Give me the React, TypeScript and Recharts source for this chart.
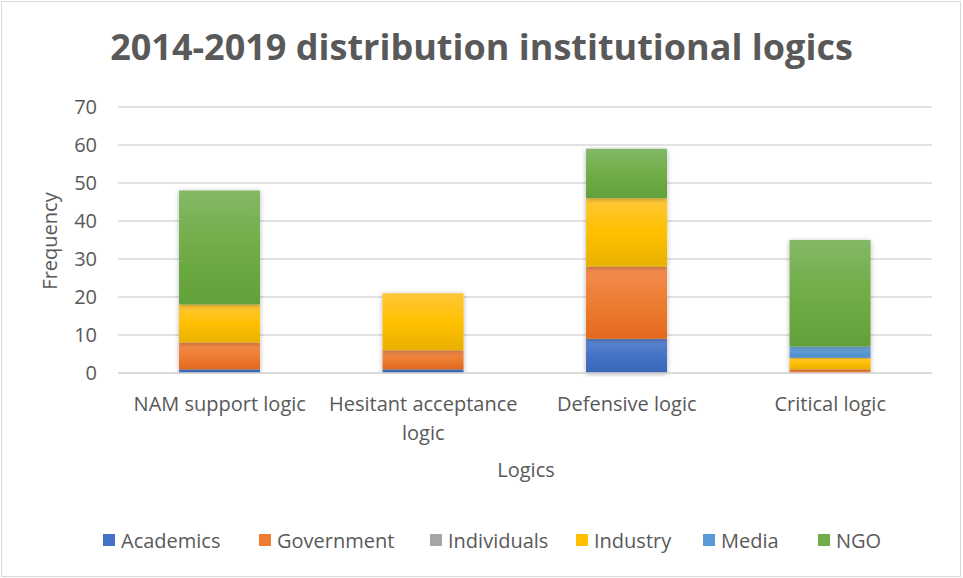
import React from 'react';
import { BarChart, Bar, XAxis, YAxis, CartesianGrid, Label } from 'recharts';

const categories = ['NAM support logic', 'Hesitant acceptance logic', 'Defensive logic', 'Critical logic'];
const academics = [1, 1, 9, 0];
const government = [7, 5, 19, 1];
const individuals = [0, 0, 0, 0];
const industry = [10, 15, 18, 3];
const media = [0, 0, 0, 3];
const ngo = [30, 0, 13, 28];
const yTicks = [0, 10, 20, 30, 40, 50, 60, 70];

const seriesNames = ['Academics', 'Government', 'Individuals', 'Industry', 'Media', 'NGO'];
const seriesValues = [academics, government, individuals, industry, media, ngo];
const seriesColors = ['#4472C4', '#ED7D31', '#A5A5A5', '#FFC000', '#5B9BD5', '#70AD47'];
const gradTop = ['#5f86cf', '#f18d51', '#b3b3b3', '#ffc73a', '#74acdc', '#84b866'];
const gradBottom = ['#3a66b8', '#e2691e', '#969696', '#e8b000', '#4b8ccb', '#62a03a'];

const data = categories.map((c, i) => {
  const row: any = { name: c };
  seriesNames.forEach((s, k) => {
    row[s] = seriesValues[k][i];
  });
  return row;
});

const FONT = '"Open Sans", Lato, sans-serif';
const FS = 20;

const CatTick = (props: any) => {
  const { x, y, payload } = props;
  const label: string = payload.value;
  const lines = label === 'Hesitant acceptance logic' ? ['Hesitant acceptance', 'logic'] : [label];
  return (
    <text x={x} y={y} textAnchor="middle" fill="#595959" fontSize={FS} fontFamily={FONT}>
      {lines.map((l, i) => (
        <tspan key={i} x={x} dy={i === 0 ? 30 : 29}>
          {l}
        </tspan>
      ))}
    </text>
  );
};

const legendLefts = [103, 259, 430, 576, 703, 818];

export default function App() {
  return (
    <div style={{ position: 'absolute', left: 0, top: 0, width: 963, height: 578, background: '#fff' }}>
      <div
        style={{
          position: 'absolute',
          left: 1,
          top: 1,
          width: 960,
          height: 576,
          border: '1px solid #d9d9d9',
          boxSizing: 'border-box',
        }}
      />
      <div
        style={{
          position: 'absolute',
          left: 0,
          top: 23,
          width: 963,
          textAlign: 'center',
          fontFamily: FONT,
          fontWeight: 700,
          fontSize: 36,
          color: '#595959',
          lineHeight: '48px',
        }}
      >
        2014-2019 distribution institutional logics
      </div>
      <BarChart
        width={963}
        height={578}
        data={data}
        margin={{ top: 107, right: 31, bottom: 175, left: 58 }}
        barCategoryGap="30%"
        style={{ position: 'absolute', left: 0, top: 0 }}
      >
        <defs>
          {seriesNames.map((s, k) => (
            <linearGradient key={s} id={`g${k}`} x1="0" y1="0" x2="0" y2="1">
              <stop offset="0%" stopColor={gradTop[k]} />
              <stop offset="50%" stopColor={seriesColors[k]} />
              <stop offset="100%" stopColor={gradBottom[k]} />
            </linearGradient>
          ))}
          <filter id="shadow" x="-20%" y="-5%" width="140%" height="115%">
            <feDropShadow dx="0" dy="1" stdDeviation="2.5" floodColor="#000" floodOpacity="0.3" />
          </filter>
        </defs>
        <CartesianGrid vertical={false} stroke="#d9d9d9" strokeWidth={1.5} />
        <XAxis
          dataKey="name"
          height={30}
          axisLine={{ stroke: '#d9d9d9', strokeWidth: 1.5 }}
          tickLine={false}
          tick={<CatTick />}
          interval={0}
        >
          <Label
            content={() => (
              <text x={526} y={477} textAnchor="middle" fill="#595959" fontSize={FS} fontFamily={FONT}>
                Logics
              </text>
            )}
          />
        </XAxis>
        <YAxis
          width={60}
          domain={[0, 70]}
          ticks={yTicks}
          axisLine={false}
          tickLine={false}
          tickSize={0}
          tickMargin={21}
          tick={{ fill: '#595959', fontSize: FS, fontFamily: FONT }}
        >
          <Label
            content={() => (
              <text
                x={57}
                y={241}
                textAnchor="middle"
                fill="#595959"
                fontSize={FS}
                fontFamily={FONT}
                transform="rotate(-90 57 241)"
              >
                Frequency
              </text>
            )}
          />
        </YAxis>
        {seriesNames.map((s, k) => (
          <Bar
            key={s}
            dataKey={s}
            stackId="a"
            fill={`url(#g${k})`}
            isAnimationActive={false}
            style={{ filter: 'url(#shadow)' }}
          />
        ))}
      </BarChart>
      <div style={{ position: 'absolute', left: 0, top: 525, width: 963, height: 30, fontFamily: FONT, fontSize: FS, color: '#595959' }}>
        {seriesNames.map((s, k) => (
          <div key={s} style={{ position: 'absolute', left: legendLefts[k], top: 0, display: 'flex', alignItems: 'center', height: 30 }}>
            <span style={{ display: 'inline-block', width: 12, height: 12, background: seriesColors[k], marginRight: 6 }} />
            <span>{s}</span>
          </div>
        ))}
      </div>
    </div>
  );
}
